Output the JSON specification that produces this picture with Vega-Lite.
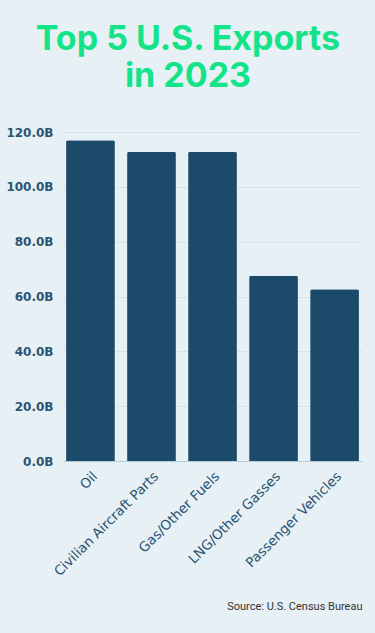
{
  "$schema": "https://vega.github.io/schema/vega-lite/v6.json",
  "autosize": {"type": "fit", "contains": "padding"},
  "width": 375,
  "height": 633,
  "padding": {"left": 5, "right": 13, "top": 23, "bottom": 21},
  "background": "#e6f0f5",
  "title": {
    "text": ["Top 5 U.S. Exports", "in 2023"],
    "font": "Inter",
    "fontSize": 34,
    "fontWeight": "bold",
    "color": "#14e38a",
    "lineHeight": 37,
    "anchor": "middle",
    "frame": "bounds",
    "dx": 4,
    "offset": 32
  },
  "data": {
    "values": [
      {"product": "Oil", "value": 117.0},
      {"product": "Civilian Aircraft Parts", "value": 112.8},
      {"product": "Gas/Other Fuels", "value": 112.8},
      {"product": "LNG/Other Gasses", "value": 67.6},
      {"product": "Passenger Vehicles", "value": 62.6}
    ]
  },
  "mark": {"type": "bar", "color": "#1b4a6a", "cornerRadiusTopLeft": 2, "cornerRadiusTopRight": 2},
  "encoding": {
    "x": {
      "field": "product",
      "type": "nominal",
      "sort": null,
      "scale": {"paddingInner": 0.2, "paddingOuter": 0.05},
      "axis": {
        "title": "Source: U.S. Census Bureau",
        "titleFont": "Roboto",
        "titleFontSize": 11,
        "titleFontWeight": "normal",
        "titleColor": "#333333",
        "titleAnchor": "end",
        "titlePadding": 22,
        "labelAngle": -45,
        "labelFont": "DejaVu Sans",
        "labelFontSize": 13.5,
        "labelColor": "#2b5472",
        "ticks": false,
        "labelPadding": 8,
        "domainColor": "#b7ccd9",
        "domainWidth": 1
      }
    },
    "y": {
      "field": "value",
      "type": "quantitative",
      "scale": {"domain": [0, 120]},
      "axis": {
        "title": null,
        "values": [0, 20, 40, 60, 80, 100, 120],
        "labelExpr": "format(datum.value, '.1f') + 'B'",
        "labelFont": "DejaVu Sans",
        "labelFontSize": 12,
        "labelFontWeight": "bold",
        "labelColor": "#2b5472",
        "ticks": false,
        "domain": false,
        "labelPadding": 10,
        "gridColor": "#d6e3ea",
        "gridWidth": 1
      }
    }
  },
  "config": {"view": {"stroke": null}}
}
